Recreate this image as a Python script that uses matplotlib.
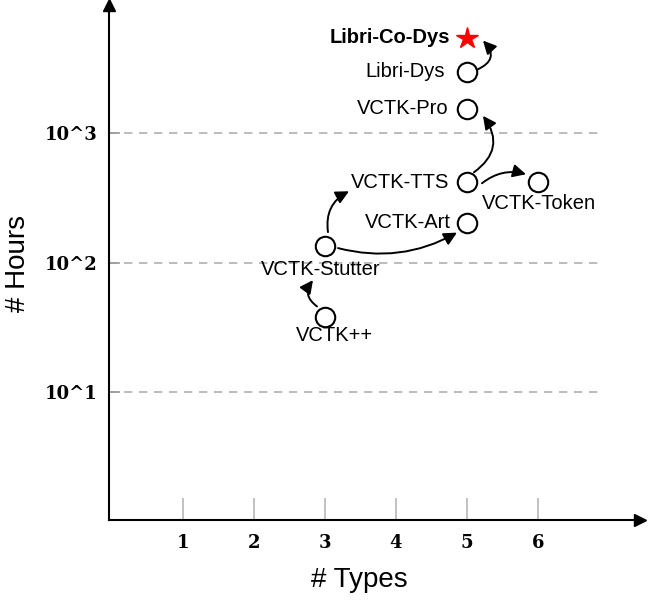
#!/usr/bin/env python3
"""Dataset landscape: number of dysfluency types vs. hours of speech."""

import matplotlib
matplotlib.use("Agg")
import matplotlib.pyplot as plt
from matplotlib.patches import FancyArrowPatch
from matplotlib.transforms import IdentityTransform

# Data
datasets = ["VCTK++", "VCTK-Stutter", "VCTK-Art", "VCTK-TTS", "VCTK-Token",
            "VCTK-Pro", "Libri-Dys", "Libri-Co-Dys"]
n_types = [3, 3, 5, 5, 6, 5, 5, 5]
hours = [38, 135, 205, 420, 420, 1550, 3000, 5500]

x_ticks = [1, 2, 3, 4, 5, 6]
y_ticks = [10, 100, 1000]
y_tick_labels = ["10^1", "10^2", "10^3"]

# lineage arrows: (source, target)
edges = [("VCTK++", "VCTK-Stutter"), ("VCTK-Stutter", "VCTK-TTS"),
         ("VCTK-Stutter", "VCTK-Art"), ("VCTK-TTS", "VCTK-Pro"),
         ("VCTK-TTS", "VCTK-Token"), ("Libri-Dys", "Libri-Co-Dys")]

# styling: label placement (pixels, y down) and arrow geometry
label_style = {
    "VCTK++": (9, 18, "center"),
    "VCTK-Stutter": (-4, 23, "center"),
    "VCTK-Art": (-16, 0, "right"),
    "VCTK-TTS": (-18, 0, "right"),
    "VCTK-Token": (1, 21, "center"),
    "VCTK-Pro": (-18, 0, "right"),
    "Libri-Dys": (-22, 0, "right"),
    "Libri-Co-Dys": (-17, 0, "right"),
}
arrow_style = [  # tail offset, head offset, curvature
    ((-8, -11), (-12, 34), -0.5),
    ((3, -14), (-118, 9), -0.35),
    ((13, 2), (-10, 10), 0.2),
    ((7, -10), (16, 7), 0.5),
    ((15, 1), (-12, -8), -0.25),
    ((10, -2), (16, 3), 0.7),
]

SANS = "Liberation Sans"
SERIF = "DejaVu Serif"

fig = plt.figure(figsize=(6.53, 6.0), dpi=100)
ax = fig.add_axes([109 / 653, 80 / 600, 531 / 653, 515 / 600])

ax.set_yscale("log")
ax.set_xlim(-0.042, 7.437)
ax.set_ylim(1.036, 9820)

# grid lines (dashed, stop short of the arrow)
ax.hlines(y_ticks, -0.042, 6.87, colors="#b0b0b0", linestyles=(0, (5, 4)),
          linewidth=1.2, zorder=1)

# ticks
ax.set_xticks(x_ticks)
ax.set_xticklabels([str(t) for t in x_ticks])
ax.set_yticks(y_ticks)
ax.set_yticklabels(y_tick_labels)
ax.yaxis.set_minor_locator(matplotlib.ticker.NullLocator())
ax.tick_params(axis="x", direction="in", length=16, width=1.2, color="#b8b8b8", pad=10)
ax.tick_params(axis="y", direction="in", length=8, width=1.2, color="#999999", pad=8)
for lab in ax.get_xticklabels() + ax.get_yticklabels():
    lab.set_fontfamily(SERIF)
    lab.set_fontweight("bold")
    lab.set_fontsize(13)

# spines with arrow heads
for side in ["top", "right"]:
    ax.spines[side].set_visible(False)
for side in ["left", "bottom"]:
    ax.spines[side].set_linewidth(1.5)
    ax.spines[side].set_color("black")
ax.plot(1, 0, ">", color="black", markersize=8, transform=ax.transAxes, clip_on=False)
ax.plot(0, 1, "^", color="black", markersize=8, transform=ax.transAxes, clip_on=False)

# axis labels
ax.set_xlabel("# Types", fontfamily=SANS, fontsize=20, va="center")
ax.xaxis.set_label_coords((359 - 109) / 531, -(580 - 520) / 515)
ax.set_ylabel("# Hours", fontfamily=SANS, fontsize=20, va="center")
ax.yaxis.set_label_coords(-(109 - 18) / 531, (520 - 263) / 515)

# points
pos = dict(zip(datasets, zip(n_types, hours)))
for name in datasets[:-1]:
    ax.plot(*pos[name], "o", markersize=14, markerfacecolor="white",
            markeredgecolor="black", markeredgewidth=1.5, zorder=3)
ax.plot(*pos["Libri-Co-Dys"], "*", markersize=16, color="red", zorder=3)

# labels
for name in datasets:
    dx, dy, ha = label_style[name]
    bold = "bold" if name == "Libri-Co-Dys" else "normal"
    ax.annotate(name, pos[name], xytext=(dx, -dy), textcoords="offset pixels",
                ha=ha, va="center", fontfamily=SANS, fontsize=14.5, fontweight=bold)

# curved arrows, in display pixels
def node_px(name, off):
    cx, cy = ax.transData.transform(pos[name])
    return cx + off[0], cy - off[1]

for (src, dst), (off_a, off_b, rad) in zip(edges, arrow_style):
    arrow = FancyArrowPatch(node_px(src, off_a), node_px(dst, off_b),
                            transform=IdentityTransform(),
                            arrowstyle="-|>,head_length=0.6,head_width=0.3",
                            connectionstyle=f"arc3,rad={rad}",
                            mutation_scale=13, linewidth=1.4, color="black",
                            shrinkA=0, shrinkB=0)
    fig.add_artist(arrow)

fig.savefig("out.png", dpi=100)
